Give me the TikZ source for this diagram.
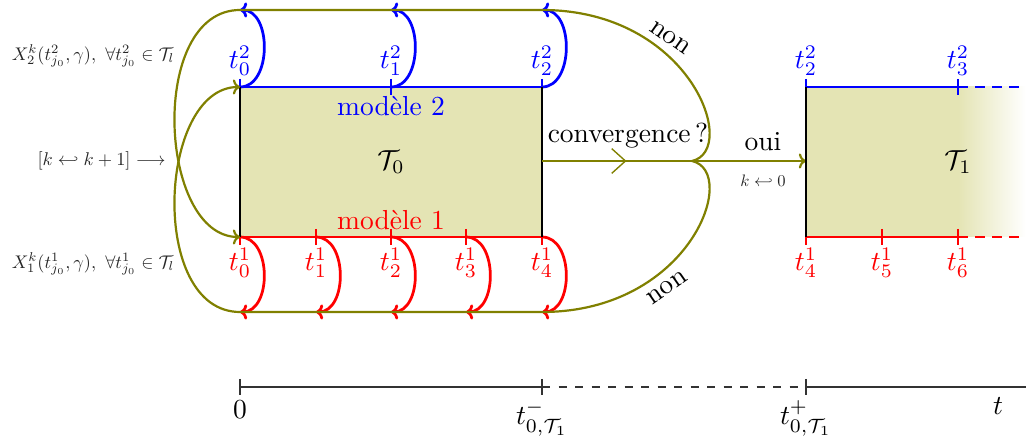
\documentclass[tikz,border=0pt]{standalone}
\usepackage{amsmath,amssymb,graphicx}
\usetikzlibrary{arrows.meta,decorations.markings}
\definecolor{fillc}{RGB}{228,228,180}
\definecolor{oliv}{RGB}{128,128,0}
\tikzset{
  bl/.style={blue, line width=1pt},
  rd/.style={red, line width=1pt},
  ol/.style={oliv, line width=0.8pt},
  edge/.style={black, line width=0.8pt},
  ax/.style={black!80, line width=0.45pt},
  tip/.style={-{To[length=2.6pt,width=5.5pt]}},
  blab/.style={blue, above, inner sep=1pt},
  rlab/.style={red, below, inner sep=1pt},
  side/.style={inner sep=0pt, text=black!85},
  midarrow/.style={postaction={decorate}, decoration={markings,
      mark=at position 0.32 with {\arrow{Straight Barb[length=5pt,width=9pt,line width=0.5pt]}}}}
}
\begin{document}
\begin{tikzpicture}[x=0.3636pt,y=-0.3636pt]
\useasboundingbox (0,0) rectangle (1026,438);
% ---------- block T0 ----------
\fill[fillc] (240,87) rectangle (542,237);
\node (T0) at (391,162) {$\mathcal{T}_0$};
\node[blue, inner sep=0pt] (m2) at (391,106) {modèle 2};
\node[red, inner sep=0pt] (m1) at (391,220) {modèle 1};
\draw[bl] (240,87) -- (542,87);
\draw[rd] (240,237) -- (542,237);
\foreach \x/\i in {240/0,391/1,542/2}{
  \draw[bl] (\x,79) -- (\x,95);
  \node[blab] (tb\i) at (\x,79) {$t_{\i}^2$};
  \coordinate (sb\i) at (\x,87);
  \coordinate (eb\i) at (\x,10);
  \draw[bl,tip] (sb\i) .. controls +(32,0) and +(32,0) .. (eb\i);
}
\foreach \x/\i in {240/0,316/1,391/2,466/3,542/4}{
  \draw[rd] (\x,229) -- (\x,245);
  \node[rlab] (tr\i) at (\x,245) {$t_{\i}^1$};
  \coordinate (sr\i) at (\x,237);
  \coordinate (er\i) at (\x,312);
  \draw[rd,tip] (sr\i) .. controls +(32,0) and +(32,0) .. (er\i);
}
\draw[edge] (240,87) -- (240,237);
\draw[edge] (542,87) -- (542,237);
% ---------- olive loops ----------
\coordinate (br) at (692,161);
\coordinate (cs) at (542,161);
\coordinate (ce) at (806,161);
\coordinate (tr) at (542,10);
\coordinate (tl) at (240,10);
\coordinate (bR) at (542,312);
\coordinate (bL) at (240,312);
\coordinate (in1) at (240,237);
\coordinate (in2) at (240,87);
\draw[ol,tip] (br) .. controls (740,150) and (690,10) .. (tr) -- (tl)
   .. controls (148,10) and (158,237) .. (in1);
\draw[ol,tip] (br) .. controls (740,172) and (690,312) .. (bR) -- (bL)
   .. controls (148,312) and (158,87) .. (in2);
\draw[ol,tip,midarrow] (cs) -- (ce);
\node (conv) at (628,136) {convergence\thinspace?};
\node (oui) at (763,142) {oui};
\node[side] (k0) at (763,181) {\resizebox{16.4pt}{!}{$k\hookleftarrow 0$}};
\node[rotate=-35] (non1) at (670,38) {non};
\node[rotate=35] (non2) at (667,288) {non};
% ---------- side labels ----------
\node[side] (X2) at (93,56) {\resizebox{59pt}{!}{$X_2^k(t^2_{j_0},\gamma),\ \forall t^2_{j_0}\in\mathcal{T}_l$}};
\node[side] (X1) at (93,264) {\resizebox{59pt}{!}{$X_1^k(t^1_{j_0},\gamma),\ \forall t^1_{j_0}\in\mathcal{T}_l$}};
\node[side, anchor=east] (kk) at (166,161) {\resizebox{46.5pt}{!}{$[k\hookleftarrow k+1]\longrightarrow$}};
% ---------- block T1 ----------
\fill[fillc] (806,87) rectangle (958,237);
\shade[left color=fillc, right color=white] (958,87) rectangle (1026,237);
\node (T1) at (958,162) {$\mathcal{T}_1$};
\draw[bl] (806,87) -- (958,87);
\draw[bl, dash pattern=on 3.6pt off 2.6pt] (958,87) -- (1026,87);
\draw[rd] (806,237) -- (958,237);
\draw[rd, dash pattern=on 3.6pt off 2.6pt] (958,237) -- (1026,237);
\foreach \x/\i in {806/2,958/3}{
  \draw[bl] (\x,79) -- (\x,95);
  \node[blab] (ub\i) at (\x,79) {$t_{\i}^2$};
}
\foreach \x/\i in {806/4,882/5,958/6}{
  \draw[rd] (\x,229) -- (\x,245);
  \node[rlab] (ur\i) at (\x,245) {$t_{\i}^1$};
}
\draw[edge] (806,87) -- (806,237);
% ---------- time axis ----------
\coordinate (a0) at (240,387);
\coordinate (a1) at (542,387);
\coordinate (a2) at (806,387);
\coordinate (a3) at (1026,387);
\draw[ax] (a0) -- (a1);
\draw[ax, dashed] (a1) -- (a2);
\draw[ax] (a2) -- (a3);
\foreach \x in {240,542,806}{ \draw[ax, line width=0.6pt] (\x,379) -- (\x,395); }
\node[below, inner sep=2pt] (l0) at (240,395) {$0$};
\node[below, inner sep=2pt] (l1) at (542,395) {$t^-_{0,\mathcal{T}_1}$};
\node[below, inner sep=2pt] (l2) at (806,395) {$t^+_{0,\mathcal{T}_1}$};
\node (lt) at (998,406) {$t$};
\end{tikzpicture}
\end{document}
